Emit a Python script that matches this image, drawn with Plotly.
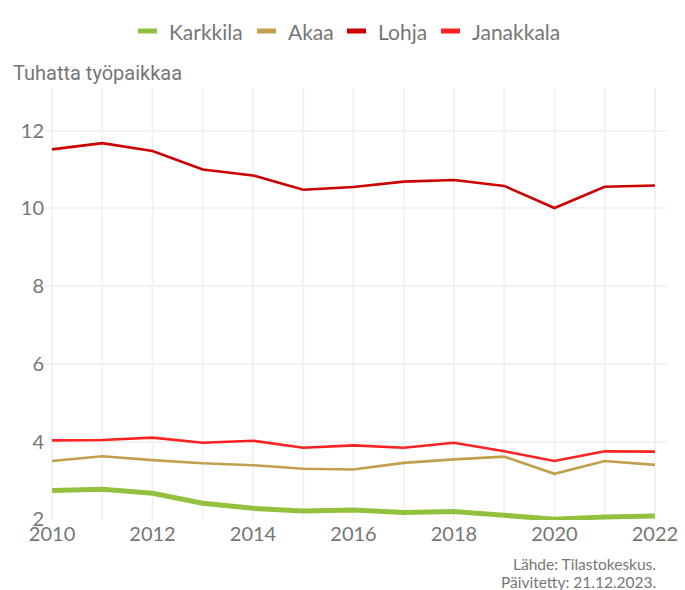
import plotly.graph_objects as go

years = list(range(2010, 2023))
karkkila = [2.74, 2.77, 2.67, 2.41, 2.28, 2.21, 2.24, 2.17, 2.20, 2.11, 2.00, 2.06, 2.08]
akaa = [3.50, 3.62, 3.52, 3.44, 3.39, 3.30, 3.28, 3.45, 3.54, 3.61, 3.17, 3.50, 3.40]
lohja = [11.52, 11.68, 11.48, 11.00, 10.85, 10.48, 10.55, 10.69, 10.73, 10.58, 10.01, 10.56, 10.59]
janakkala = [4.03, 4.04, 4.10, 3.97, 4.02, 3.84, 3.90, 3.84, 3.97, 3.75, 3.50, 3.75, 3.74]

series = [
    ("Karkkila", karkkila, "#93c13e", 5),
    ("Akaa", akaa, "#c19f4d", 2.6),
    ("Lohja", lohja, "#cc0000", 2.6),
    ("Janakkala", janakkala, "#ff2222", 2.6),
]

W, H = 685, 590
ML, MR, MT, MB = 45, 18, 88, 70
PW = W - ML - MR
PH = H - MT - MB

def px(x):
    return (x - ML) / PW

def py(y):
    return 1 - (y - MT) / PH

text_col = "#767676"
fig = go.Figure()
for name, vals, col, w in series:
    fig.add_trace(go.Scatter(x=years, y=vals, mode="lines", name=name,
                             line=dict(color=col, width=w), showlegend=False))

grid = "#f2f2f2"
fig.update_layout(
    width=W, height=H,
    margin=dict(l=ML, r=MR, t=MT, b=MB, autoexpand=False),
    paper_bgcolor="white", plot_bgcolor="white",
    font=dict(family="Lato", color=text_col),
    showlegend=False,
    xaxis=dict(range=[2009.86, 2022.24], tickvals=[2010, 2012, 2014, 2016, 2018, 2020, 2022],
               showgrid=False, zeroline=False, showline=False, automargin=False,
               tickfont=dict(size=20, family="Lato", color=text_col), ticks=""),
    yaxis=dict(range=[1.98, 13.1], tickvals=[2, 4, 6, 8, 10, 12], automargin=False,
               showgrid=True, gridcolor=grid, gridwidth=2, zeroline=False, showline=False,
               tickfont=dict(size=20, family="Lato", color=text_col), ticks=""),
)
# vertical gridlines every year
for yr in years:
    fig.add_shape(type="line", xref="x", yref="paper", x0=yr, x1=yr, y0=0, y1=1,
                  line=dict(color=grid, width=2), layer="below")

# custom legend
leg_x = [138, 257, 347, 441]
for (name, vals, col, w), lx in zip(series, leg_x):
    fig.add_shape(type="line", xref="paper", yref="paper",
                  x0=px(lx), x1=px(lx + 19), y0=py(31), y1=py(31),
                  line=dict(color=col, width=5))
    fig.add_annotation(text=name, xref="paper", yref="paper", x=px(lx + 29), y=py(31),
                       xanchor="left", yanchor="middle", showarrow=False,
                       font=dict(size=21, family="Lato", color=text_col))

fig.add_annotation(text="Tuhatta työpaikkaa", xref="paper", yref="paper",
                   x=px(11), y=py(73), xanchor="left", yanchor="middle", showarrow=False,
                   font=dict(size=20, family="Roboto", color=text_col))
fig.add_annotation(text="Lähde: Tilastokeskus.", xref="paper", yref="paper",
                   x=px(658), y=py(564), xanchor="right", yanchor="middle", showarrow=False,
                   font=dict(size=15.5, family="Lato", color=text_col))
fig.add_annotation(text="Päivitetty: 21.12.2023.", xref="paper", yref="paper",
                   x=px(658), y=py(582), xanchor="right", yanchor="middle", showarrow=False,
                   font=dict(size=15.5, family="Lato", color=text_col))

fig.write_html("out.html", config={"displayModeBar": False},
               post_script="document.body.style.margin='0';document.body.style.padding='0';")
